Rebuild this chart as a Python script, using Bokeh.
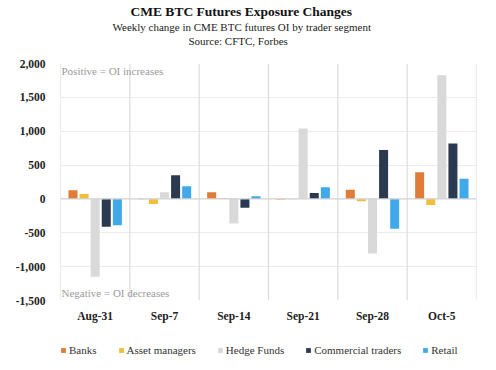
from bokeh.plotting import figure
from bokeh.layouts import column
from bokeh.models import (ColumnDataSource, FactorRange, Span, Label, Legend, Title,
                          LegendItem, NumeralTickFormatter, FixedTicker, Range1d)
from bokeh.transform import dodge
from bokeh.embed import file_html
from bokeh.resources import INLINE

weeks = ["Aug-31", "Sep-7", "Sep-14", "Sep-21", "Sep-28", "Oct-5"]
segments = ["Banks", "Asset managers", "Hedge Funds", "Commercial traders", "Retail"]
banks = [127, -6, 98, -10, 137, 395]
asset_managers = [74, -74, 15, -4, -34, -88]
hedge_funds = [-1150, 98, -363, 1040, -806, 1825]
commercial_traders = [-412, 348, -132, 88, 723, 820]
retail = [-387, 186, 39, 172, -441, 299]
y_ticks = [-1500, -1000, -500, 0, 500, 1000, 1500, 2000]

colors = ["#E07B39", "#F2BC3C", "#D9D9D9", "#2B3A50", "#40A9E9"]
series = [banks, asset_managers, hedge_funds, commercial_traders, retail]
keys = ["banks", "asset_managers", "hedge_funds", "commercial_traders", "retail"]

data = {"week": weeks}
for k, s in zip(keys, series):
    data[k] = s
source = ColumnDataSource(data)

SERIF = "Liberation Serif"

p = figure(x_range=FactorRange(*weeks), y_range=Range1d(-1500, 2000),
           width=494, height=332,
           min_border_left=60, min_border_right=18, min_border_top=0, min_border_bottom=32,
           output_backend="svg", toolbar_location=None)
p.outline_line_color = None
p.background_fill_color = "white"
p.border_fill_color = "white"

# gridlines
p.xgrid.grid_line_color = None
p.ygrid.ticker = FixedTicker(ticks=y_ticks)
p.ygrid.grid_line_color = "#EBEBEB"
p.ygrid.grid_line_width = 1

for i in range(len(weeks) + 1):
    p.add_layout(Span(location=i, dimension="height", line_color="#DCDCDC", line_width=1.2))
p.add_layout(Span(location=0, dimension="width", line_color="#D4D4D4", line_width=1.2))

offsets = [-0.32, -0.16, 0.0, 0.16, 0.32]
for k, c, off in zip(keys, colors, offsets):
    p.vbar(x=dodge("week", off, range=p.x_range), top=k, bottom=0, width=0.13,
           source=source, fill_color=c, line_color=None)

# axes
p.yaxis.ticker = FixedTicker(ticks=y_ticks)
p.yaxis.formatter = NumeralTickFormatter(format="0,0")
p.yaxis.axis_line_color = None
p.yaxis.major_tick_line_color = None
p.yaxis.minor_tick_line_color = None
p.yaxis.major_label_text_font = SERIF
p.yaxis.major_label_text_font_size = "11.5px"
p.yaxis.major_label_text_font_style = "bold"
p.yaxis.major_label_text_color = "#222222"
p.yaxis.major_label_standoff = 9

p.xaxis.axis_line_color = None
p.xaxis.major_tick_line_color = None
p.xaxis.minor_tick_line_color = None
p.xaxis.major_label_text_font = SERIF
p.xaxis.major_label_text_font_size = "11.5px"
p.xaxis.major_label_text_font_style = "bold"
p.xaxis.major_label_text_color = "#222222"
p.xaxis.major_label_standoff = 3

# titles (added from the closest to the frame outward)
p.add_layout(Title(text=" ", align="left", offset=0, standoff=2,
                   text_font=SERIF, text_font_size="11px"), "above")
p.add_layout(Title(text="Source: CFTC, Forbes", align="left", offset=128,
                   standoff=2, text_font=SERIF, text_font_size="11px",
                   text_font_style="normal", text_color="#222222"), "above")
p.add_layout(Title(text="Weekly change in CME BTC futures OI by trader segment",
                   align="left", offset=52, standoff=-2, text_font=SERIF,
                   text_font_size="11px", text_font_style="normal",
                   text_color="#222222"), "above")
p.add_layout(Title(text="CME BTC Futures Exposure Changes", align="left", offset=70,
                   standoff=2, text_font=SERIF, text_font_size="13.5px",
                   text_font_style="bold", text_color="#111111"), "above")

p.add_layout(Label(x=1, y=230, x_units="screen", y_units="screen",
                   text="Positive = OI increases", text_align="left",
                   text_baseline="middle", text_font=SERIF,
                   text_font_size="11px", text_color="#9A9A9A"))
p.add_layout(Label(x=1, y=8, x_units="screen", y_units="screen",
                   text="Negative = OI decreases", text_align="left",
                   text_baseline="middle", text_font=SERIF,
                   text_font_size="11px", text_color="#9A9A9A"))

# legend strip: same series drawn out of view, only their legend swatches show
leg = figure(width=494, height=36, x_range=FactorRange(*weeks), y_range=Range1d(5000, 6000),
             min_border=0, x_axis_type=None, y_axis_type=None,
             output_backend="svg", toolbar_location=None)
leg.outline_line_color = None
leg.xgrid.grid_line_color = None
leg.ygrid.grid_line_color = None
leg_renderers = []
for k, c, off in zip(keys, colors, offsets):
    leg_renderers.append(leg.vbar(x=dodge("week", off, range=leg.x_range), top=k,
                                  bottom=0, width=0.13, source=source,
                                  fill_color=c, line_color=None))
items = [LegendItem(label=s, renderers=[r]) for s, r in zip(segments, leg_renderers)]
legend = Legend(items=items, orientation="horizontal", location=(0, 12),
                label_text_font=SERIF, label_text_font_size="11px",
                label_text_color="#333333", glyph_width=6, glyph_height=6,
                label_standoff=3, spacing=21, padding=2, margin=0, label_height=12,
                border_line_color=None, background_fill_alpha=0)
leg.add_layout(legend)

layout = column(p, leg, spacing=0)
open("out.html", "w").write(file_html(layout, INLINE))
